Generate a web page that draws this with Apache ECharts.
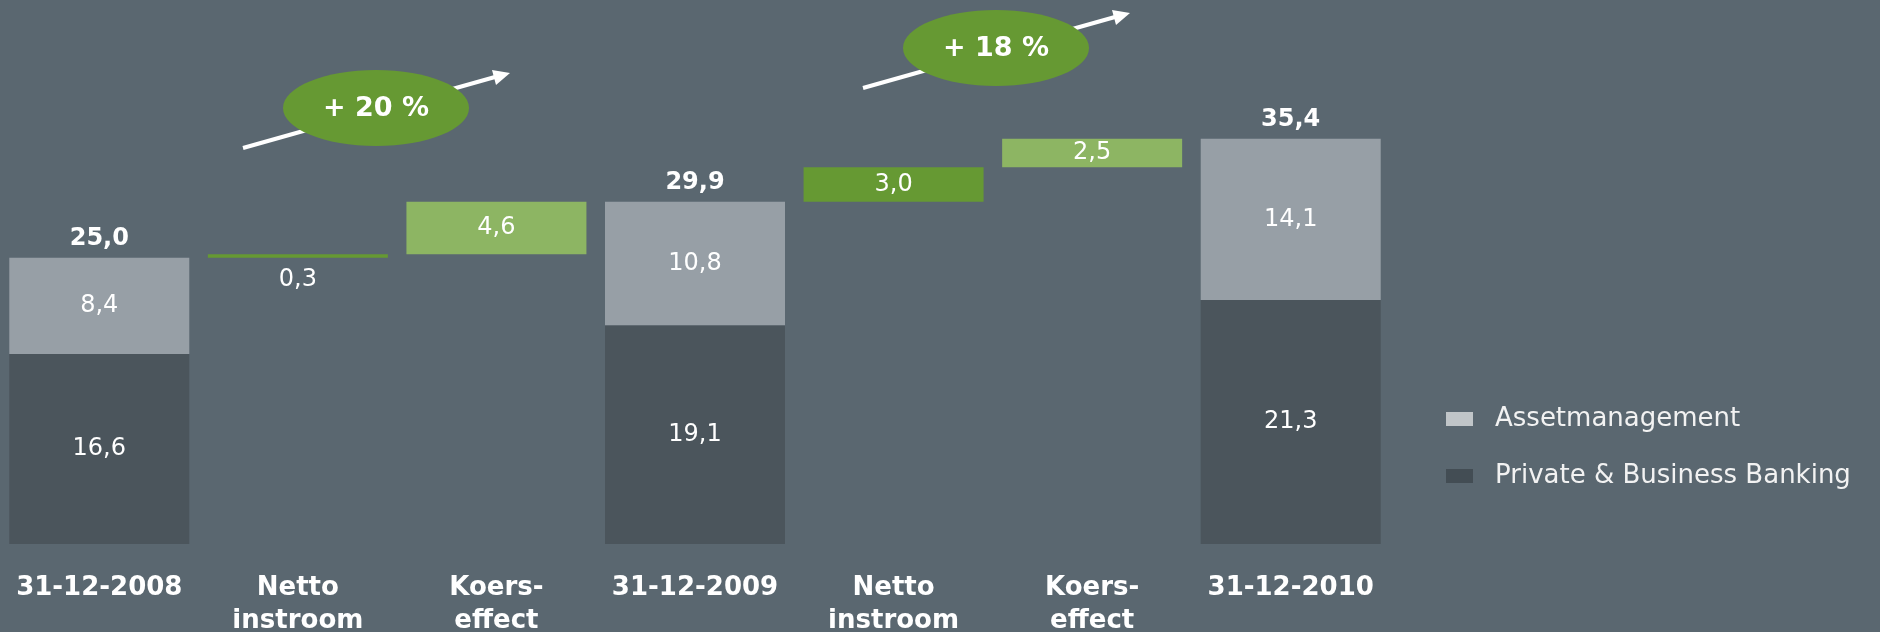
<!DOCTYPE html>
<html><head><meta charset="utf-8">
<script src="https://cdn.jsdelivr.net/npm/echarts@6/dist/echarts.min.js"></script>
<style>html,body{margin:0;padding:0;background:#5a6770;}#c{width:1880px;height:632px;}</style>
</head><body><div id="c"></div>
<script>
// ---- data ----
const categories = ['31-12-2008', 'Netto\ninstroom', 'Koers-\neffect', '31-12-2009', 'Netto\ninstroom', 'Koers-\neffect', '31-12-2010'];
const privateBanking = [16.6, null, null, 19.1, null, null, 21.3];
const assetManagement = [8.4, null, null, 10.8, null, null, 14.1];
const totals = [25.0, null, null, 29.9, null, null, 35.4];
const changes = [null, 0.3, 4.6, null, 3.0, 2.5, null];
const changeKinds = [null, 'netto', 'koers', null, 'netto', 'koers', null];
const growthLabels = ['+ 20 %', '+ 18 %'];
const seriesNames = ['Assetmanagement', 'Private & Business Banking'];

// ---- styles ----
const FONT = '"DejaVu Sans", Verdana, sans-serif';
const C_BG = '#5a6770', C_LIGHT = '#979fa6', C_DARK = '#4b555c';
const C_NETTO = '#669933', C_KOERS = '#8db563';
const fmt = v => v.toFixed(1).replace('.', ',');

// waterfall offsets derived from the data
const bases = [];
let run = 0;
for (let i = 0; i < categories.length; i++) {
  if (totals[i] != null) { run = totals[i]; bases.push('-'); }
  else { bases.push(+run.toFixed(2)); run += changes[i]; }
}
const dash = a => a.map(v => v == null ? '-' : v);

const changeData = changes.map((v, i) => {
  if (v == null) return '-';
  const thin = v < 1;
  return {
    value: v,
    itemStyle: { color: changeKinds[i] === 'netto' ? C_NETTO : C_KOERS },
    label: thin ? { position: 'bottom', distance: 10 } : { position: 'inside' }
  };
});

const valLabel = { show: true, color: '#ffffff', fontFamily: FONT, fontSize: 24, formatter: p => fmt(p.value) };

const chart = echarts.init(document.getElementById('c'));
chart.setOption({
  animation: false,
  backgroundColor: C_BG,
  grid: { left: 0, right: 490, top: 86, bottom: 88, containLabel: false, outerBoundsMode: 'none' },
  xAxis: {
    type: 'category', data: categories,
    axisLine: { show: false }, axisTick: { show: false }, splitLine: { show: false },
    axisLabel: { color: '#ffffff', fontFamily: FONT, fontWeight: 'bold', fontSize: 26, lineHeight: 33, margin: 28, interval: 0 }
  },
  yAxis: { type: 'value', min: 0, max: 40, show: false, splitLine: { show: false } },
  legend: {
    orient: 'vertical', left: 1446, top: 404, padding: 0, itemWidth: 27, itemHeight: 14, itemGap: 27,
    icon: 'rect', selectedMode: false,
    textStyle: { color: '#f2f2f2', fontFamily: FONT, fontSize: 26, lineHeight: 30, padding: [0, 0, 0, 17] },
    data: [
      { name: seriesNames[0], itemStyle: { color: '#c0c5c8' } },
      { name: seriesNames[1], itemStyle: { color: '#434d54' } }
    ]
  },
  series: [
    { name: seriesNames[1], type: 'bar', stack: 'w', barWidth: 180, data: dash(privateBanking),
      itemStyle: { color: C_DARK }, label: Object.assign({ position: 'inside' }, valLabel) },
    { name: seriesNames[0], type: 'bar', stack: 'w', barWidth: 180, data: dash(assetManagement),
      itemStyle: { color: C_LIGHT }, label: Object.assign({ position: 'inside' }, valLabel) },
    { name: 'base', type: 'bar', stack: 'w', barWidth: 180, data: bases, silent: true,
      itemStyle: { color: 'rgba(0,0,0,0)' } },
    { name: 'change', type: 'bar', stack: 'w', barWidth: 180, data: changeData,
      label: valLabel },
    { name: 'total', type: 'scatter', data: dash(totals), symbolSize: 1,
      itemStyle: { color: 'rgba(0,0,0,0)', opacity: 1 },
      label: { show: true, position: 'top', distance: 6, color: '#ffffff', opacity: 1, fontFamily: FONT, fontWeight: 'bold', fontSize: 24,
               formatter: p => fmt(p.value) } }
  ],
  graphic: [0, 1].map(k => {
    const dx = 620 * k, dy = -60 * k;
    return {
      type: 'group', x: dx, y: dy, z: 100,
      children: [
        { type: 'line', z: 1, shape: { x1: 243, y1: 148, x2: 495, y2: 77 }, style: { stroke: '#ffffff', lineWidth: 4 } },
        { type: 'polygon', z: 1, shape: { points: [[510, 73], [492, 70], [496, 85]] }, style: { fill: '#ffffff' } },
        { type: 'ellipse', z: 2, shape: { cx: 376, cy: 108, rx: 93, ry: 38 }, style: { fill: C_NETTO } },
        { type: 'text', z: 3, x: 376, y: 109, style: { text: growthLabels[k], fill: '#ffffff', font: 'bold 27px ' + FONT, align: 'center', verticalAlign: 'middle' } }
      ]
    };
  })
});
</script></body></html>
